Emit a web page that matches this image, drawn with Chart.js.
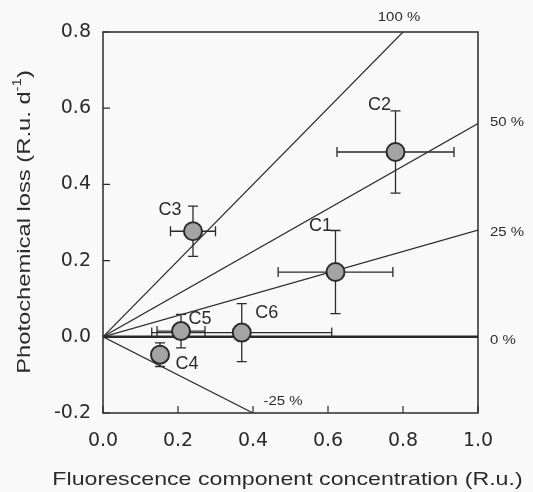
<!DOCTYPE html>
<html><head><meta charset="utf-8">
<script src="https://cdn.jsdelivr.net/npm/chart.js@4.4.1/dist/chart.umd.min.js"></script>
<style>html,body{margin:0;padding:0;background:#f9f9f9}#wrap{width:533px;height:492px}</style>
</head><body><div id="wrap"><canvas id="c" width="533" height="492"></canvas></div>
<script>
// ---- data ----
const categories = ['C1', 'C2', 'C3', 'C4', 'C5', 'C6'];
const xValues = [0.62, 0.78, 0.24, 0.152, 0.208, 0.37];
const yValues = [0.17, 0.485, 0.277, -0.047, 0.015, 0.011];
const xErrors = [0.153, 0.156, 0.06, 0.02, 0.064, 0.24];
const yErrors = [0.109, 0.108, 0.066, 0.031, 0.044, 0.076];
const refLabels = ['100 %', '50 %', '25 %', '0 %', '-25 %'];
const refEndX = [0.8, 1.0, 1.0, 1.0, 0.4];
const refEndY = [0.8, 0.56, 0.28, 0.0, -0.2];
const xTicks = [0.0, 0.2, 0.4, 0.6, 0.8, 1.0];
const yTicks = [-0.2, 0.0, 0.2, 0.4, 0.6, 0.8];
const xTitle = 'Fluorescence component concentration (R.u.)';
const yTitleMain = 'Photochemical loss (R.u. d';
const yTitleSup = '-1';
const yTitleEnd = ')';

// ---- style (pixel offsets for labels) ----
const pointLabelOffsets = [[-15, -46], [-16, -47], [-23, -21], [27, 9], [19, -12], [25, -20]];
const refLabelOffsets = [[-4, -15], [29, -1], [29, 2], [25, 4], [30, -12]];
const INK = '#2b2b2b';
const FONT = '"Liberation Sans", Arial, sans-serif';
const TICKFONT = '"DejaVu Sans", "Liberation Sans", sans-serif';
const STRETCH = 1.22;

const pointData = xValues.map((x, i) => ({ x: x, y: yValues[i] }));
const refDatasets = refLabels.map((lab, i) => ({
  type: 'line',
  label: lab,
  data: [{ x: 0, y: 0 }, { x: refEndX[i], y: refEndY[i] }],
  borderColor: INK,
  borderWidth: refEndY[i] === 0 ? 2.4 : 1.2,
  pointRadius: 0,
  fill: false,
  showLine: true
}));

function stretchedText(ctx, text, x, y, sx) {
  ctx.save();
  ctx.translate(x, y);
  ctx.scale(sx, 1);
  ctx.fillText(text, 0, 0);
  ctx.restore();
}

const annot = {
  id: 'annot',
  beforeDatasetsDraw(chart) {
    const ctx = chart.ctx, xs = chart.scales.x, ys = chart.scales.y;
    ctx.save();
    ctx.strokeStyle = INK;
    ctx.lineWidth = 1.3;
    const cap = 5;
    xValues.forEach((x, i) => {
      const px = xs.getPixelForValue(x), py = ys.getPixelForValue(yValues[i]);
      const x0 = xs.getPixelForValue(x - xErrors[i]), x1 = xs.getPixelForValue(x + xErrors[i]);
      const y0 = ys.getPixelForValue(yValues[i] - yErrors[i]), y1 = ys.getPixelForValue(yValues[i] + yErrors[i]);
      ctx.beginPath();
      ctx.moveTo(x0, py); ctx.lineTo(x1, py);
      ctx.moveTo(x0, py - cap); ctx.lineTo(x0, py + cap);
      ctx.moveTo(x1, py - cap); ctx.lineTo(x1, py + cap);
      ctx.moveTo(px, y0); ctx.lineTo(px, y1);
      ctx.moveTo(px - cap, y0); ctx.lineTo(px + cap, y0);
      ctx.moveTo(px - cap, y1); ctx.lineTo(px + cap, y1);
      ctx.stroke();
    });
    ctx.restore();
  },
  afterDraw(chart) {
    const ctx = chart.ctx, xs = chart.scales.x, ys = chart.scales.y, a = chart.chartArea;
    ctx.save();
    // frame
    ctx.strokeStyle = INK;
    ctx.lineWidth = 1.5;
    ctx.strokeRect(a.left, a.top, a.right - a.left, a.bottom - a.top);
    // inner ticks
    ctx.lineWidth = 1.2;
    ctx.beginPath();
    xTicks.forEach(v => { const p = xs.getPixelForValue(v); ctx.moveTo(p, a.bottom); ctx.lineTo(p, a.bottom - 7); });
    yTicks.forEach(v => { const p = ys.getPixelForValue(v); ctx.moveTo(a.left, p); ctx.lineTo(a.left + 7, p); });
    ctx.stroke();
    // point labels
    ctx.fillStyle = INK;
    ctx.textAlign = 'center';
    ctx.textBaseline = 'middle';
    ctx.font = '18px ' + FONT;
    categories.forEach((c, i) => {
      const px = xs.getPixelForValue(xValues[i]) + pointLabelOffsets[i][0];
      const py = ys.getPixelForValue(yValues[i]) + pointLabelOffsets[i][1];
      ctx.fillText(c, px, py);
    });
    // reference line labels
    ctx.font = '13px ' + FONT;
    refLabels.forEach((l, i) => {
      const px = xs.getPixelForValue(refEndX[i]) + refLabelOffsets[i][0];
      const py = ys.getPixelForValue(refEndY[i]) + refLabelOffsets[i][1];
      stretchedText(ctx, l, px, py, 1.15);
    });
    // x title
    ctx.font = '19px ' + FONT;
    stretchedText(ctx, xTitle, 287.5, 480, STRETCH);
    // y title with superscript
    ctx.translate(25, 222);
    ctx.rotate(-Math.PI / 2);
    ctx.scale(1.25, 1);
    ctx.font = '19px ' + FONT;
    const supFont = '12px ' + FONT;
    const w1 = ctx.measureText(yTitleMain).width;
    const w3 = ctx.measureText(yTitleEnd).width;
    ctx.font = supFont;
    const w2 = ctx.measureText(yTitleSup).width;
    const total = w1 + w2 + w3;
    let sx = -total / 2;
    ctx.textAlign = 'left';
    ctx.font = '19px ' + FONT;
    ctx.fillText(yTitleMain, sx, 0);
    sx += w1;
    ctx.font = supFont;
    ctx.fillText(yTitleSup, sx, -7);
    sx += w2;
    ctx.font = '19px ' + FONT;
    ctx.fillText(yTitleEnd, sx, 0);
    ctx.restore();
  }
};

new Chart(document.getElementById('c'), {
  type: 'scatter',
  data: {
    datasets: [{
      label: 'components',
      data: pointData,
      pointRadius: 9,
      pointHoverRadius: 9,
      backgroundColor: '#a4a4a4',
      borderColor: INK,
      borderWidth: 2
    }].concat(refDatasets)
  },
  options: {
    responsive: false,
    animation: false,
    layout: { padding: { left: 0, right: 55, top: 32, bottom: 0 } },
    plugins: { legend: { display: false }, tooltip: { enabled: false } },
    scales: {
      x: {
        type: 'linear', min: 0, max: 1.0,
        afterBuildTicks: s => { s.ticks = xTicks.map(v => ({ value: v })); },
        afterFit: s => { s.height = 79; },
        grid: { display: false, drawTicks: false },
        border: { display: false },
        ticks: { color: INK, font: { size: 19, family: TICKFONT }, padding: 17, callback: v => Number(v).toFixed(1), maxRotation: 0 }
      },
      y: {
        type: 'linear', min: -0.2, max: 0.8,
        afterBuildTicks: s => { s.ticks = yTicks.map(v => ({ value: v })); },
        afterFit: s => { s.width = 103; },
        grid: { display: false, drawTicks: false },
        border: { display: false },
        ticks: { color: INK, font: { size: 19, family: TICKFONT }, padding: 12, callback: v => Number(v).toFixed(1) }
      }
    }
  },
  plugins: [annot]
});
</script>
</body></html>
